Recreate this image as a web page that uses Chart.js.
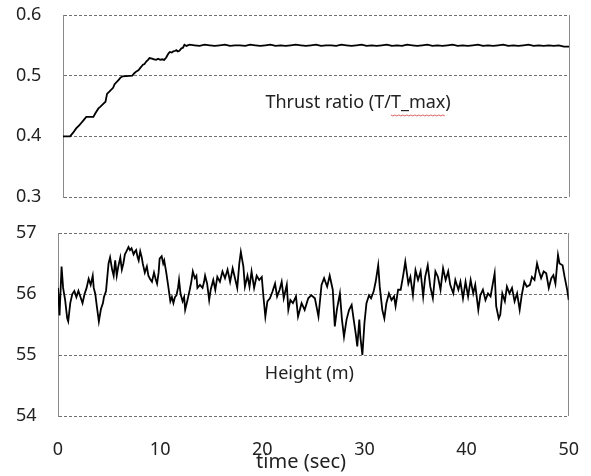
<!DOCTYPE html>
<html>
<head>
<meta charset="utf-8">
<script src="https://cdn.jsdelivr.net/npm/chart.js@4.4.1/dist/chart.umd.min.js"></script>
<style>
    html, body { margin: 0; padding: 0; background: #fff; }
    #wrap { position: relative; width: 591px; height: 476px; }
    canvas { position: absolute; left: 0; }
    #thrustChart { top: 0; }
    #heightChart { top: 215px; }
</style>
</head>
<body>
<div id="wrap">
    <canvas id="thrustChart" width="591" height="215"></canvas>
    <canvas id="heightChart" width="591" height="261"></canvas>
</div>
<script>
// values
const thrustTime = [
    0, 0.7, 1.0, 1.3, 1.6, 1.8, 2.0, 2.3, 3.0, 3.2, 3.5, 3.7, 4.0, 4.2, 4.35, 4.6, 4.95, 5.1, 5.5, 5.7,
    5.9, 6.85, 7.05, 7.25, 7.45, 7.6, 7.9, 8.05, 8.2, 8.4, 8.55, 8.8, 9.0, 9.2, 9.4, 9.6, 9.8, 10.0, 10.2, 10.4,
    10.55, 10.75, 10.9, 11.1, 11.2, 11.35, 11.5, 11.7, 11.85, 12.0, 12.2, 12.5,
    13.0, 13.5, 14.0, 14.5, 15.0, 15.5, 16.0, 16.5, 17.0, 17.5, 18.0, 18.5, 19.0, 19.5, 20.0, 20.5,
    21.0, 21.5, 22.0, 22.5, 23.0, 23.5, 24.0, 24.5, 25.0, 25.5, 26.0, 26.5, 27.0, 27.5, 28.0, 28.5,
    29.0, 29.5, 30.0, 30.5, 31.0, 31.5, 32.0, 32.5, 33.0, 33.5, 34.0, 34.5, 35.0, 35.5, 36.0, 36.5,
    37.0, 37.5, 38.0, 38.5, 39.0, 39.5, 40.0, 40.5, 41.0, 41.5, 42.0, 42.5, 43.0, 43.5, 44.0, 44.5,
    45.0, 45.5, 46.0, 46.5, 47.0, 47.5, 48.0, 48.5, 49.0, 49.5, 50.0
];
const thrustRatio = [
    0.400, 0.400, 0.406, 0.413, 0.418, 0.422, 0.426, 0.432, 0.432, 0.438, 0.446, 0.449, 0.454, 0.457, 0.470, 0.474, 0.480, 0.486, 0.493, 0.497,
    0.499, 0.500, 0.504, 0.507, 0.509, 0.512, 0.518, 0.519, 0.523, 0.526, 0.529, 0.528, 0.527, 0.526, 0.528, 0.526, 0.527, 0.526, 0.530, 0.536,
    0.539, 0.538, 0.540, 0.541, 0.542, 0.540, 0.541, 0.545, 0.546, 0.551, 0.549, 0.551,
    0.550, 0.549, 0.551, 0.550, 0.549, 0.550, 0.551, 0.549, 0.550, 0.550, 0.549, 0.551, 0.550, 0.549, 0.550, 0.551,
    0.549, 0.550, 0.549, 0.550, 0.551, 0.550, 0.549, 0.550, 0.551, 0.549, 0.550, 0.550, 0.549, 0.551, 0.550, 0.549,
    0.550, 0.551, 0.549, 0.550, 0.549, 0.550, 0.551, 0.549, 0.550, 0.549, 0.551, 0.550, 0.549, 0.550, 0.551, 0.549,
    0.550, 0.549, 0.550, 0.551, 0.549, 0.550, 0.549, 0.550, 0.551, 0.549, 0.550, 0.549, 0.550, 0.551, 0.549, 0.550,
    0.549, 0.550, 0.551, 0.549, 0.550, 0.549, 0.550, 0.549, 0.550, 0.548, 0.548
];

const heightTime = [
    0.0, 0.15, 0.35, 0.5, 0.7, 0.9, 1.0, 1.2, 1.4, 1.6, 1.8, 2.0, 2.2, 2.4, 2.6, 2.8, 3.0, 3.2, 3.4, 3.5,
    3.65, 3.8, 4.0, 4.2, 4.4, 4.5, 4.7, 4.95, 5.1, 5.3, 5.45, 5.6, 5.75, 5.9, 6.1, 6.25, 6.4, 6.55, 6.7, 6.9,
    7.05, 7.2, 7.4, 7.55, 7.65, 7.8, 7.9, 8.05, 8.2, 8.3, 8.5, 8.7, 8.85, 9.0, 9.2, 9.4, 9.55, 9.7, 9.85, 9.95,
    10.15, 10.3, 10.4, 10.6, 10.8, 11.0, 11.15, 11.3, 11.45, 11.6, 11.75, 11.85, 12.0, 12.2, 12.35, 12.45, 12.65, 12.9, 13.05, 13.2,
    13.4, 13.55, 13.65, 13.9, 14.15, 14.3, 14.4, 14.6, 14.8, 14.95, 15.2, 15.4, 15.6, 15.85, 16.1, 16.35, 16.6, 16.85, 17.1, 17.3,
    17.55, 17.75, 17.9, 18.15, 18.3, 18.55, 18.75, 18.95, 19.2, 19.45, 19.7, 19.95, 20.1, 20.3, 20.5, 20.75, 21.0, 21.25, 21.45, 21.7,
    21.9, 22.1, 22.4, 22.55, 22.75, 23.0, 23.3, 23.5, 23.85, 24.15, 24.5, 24.8, 25.15, 25.5, 25.8, 26.05, 26.35, 26.6, 26.9, 27.1,
    27.3, 27.6, 27.8, 28.0, 28.25, 28.5, 28.75, 28.95, 29.15, 29.3, 29.5, 29.6, 29.8, 30.0, 30.2, 30.45, 30.65, 30.9, 31.1, 31.35,
    31.5, 31.75, 31.95, 32.15, 32.4, 32.65, 32.9, 33.05, 33.3, 33.55, 33.8, 34.0, 34.3, 34.5, 34.75, 35.0, 35.25, 35.5, 35.75, 35.95,
    36.2, 36.45, 36.7, 36.95, 37.2, 37.45, 37.7, 37.95, 38.2, 38.4, 38.7, 38.9, 39.2, 39.4, 39.65, 39.9, 40.15, 40.4, 40.65, 40.85,
    41.15, 41.35, 41.6, 41.85, 42.1, 42.35, 42.6, 42.75, 42.9, 43.15, 43.3, 43.5, 43.75, 43.95, 44.2, 44.45, 44.7, 44.95, 45.2, 45.4,
    45.65, 45.9, 46.2, 46.4, 46.65, 46.9, 47.1, 47.3, 47.55, 47.8, 48.05, 48.3, 48.5, 48.7, 48.95, 49.1, 49.4, 49.6, 49.85, 50.0
];
const heightValue = [
    56.10, 55.65, 56.45, 56.10, 55.90, 55.60, 55.55, 55.85, 56.00, 56.05, 55.95, 56.05, 55.95, 55.85, 56.00, 56.10, 56.25, 56.15, 56.30, 56.10,
    56.00, 55.80, 55.55, 55.75, 55.85, 55.95, 56.05, 56.50, 56.60, 56.40, 56.30, 56.55, 56.30, 56.45, 56.60, 56.40, 56.50, 56.65, 56.70, 56.77,
    56.72, 56.75, 56.65, 56.70, 56.72, 56.60, 56.55, 56.70, 56.60, 56.50, 56.35, 56.45, 56.30, 56.25, 56.20, 56.35, 56.25, 56.17, 56.35, 56.58,
    56.62, 56.50, 56.55, 56.35, 56.12, 55.88, 55.95, 55.85, 55.95, 55.98, 56.10, 56.23, 56.00, 55.88, 55.95, 55.74, 55.88, 56.07, 56.20, 56.37,
    56.26, 56.30, 56.10, 56.15, 56.10, 56.20, 56.30, 56.17, 55.90, 56.07, 56.23, 56.07, 56.28, 56.20, 56.37, 56.26, 56.40, 56.20, 56.42, 56.28,
    56.10, 56.50, 56.69, 56.45, 56.12, 56.30, 56.12, 56.37, 56.10, 56.30, 56.23, 56.28, 55.98, 55.63, 55.88, 55.93, 56.04, 56.17, 55.96, 56.07,
    56.20, 55.93, 56.15, 55.74, 55.90, 55.85, 55.96, 55.63, 55.85, 55.74, 55.93, 55.98, 55.93, 55.63, 56.15, 56.26, 56.12, 56.30, 56.07, 55.47,
    55.74, 56.01, 55.58, 55.30, 55.58, 55.74, 55.82, 55.58, 55.35, 55.14, 55.58, 55.30, 55.00, 55.52, 55.85, 55.98, 55.93, 56.04, 56.20, 56.47,
    56.12, 55.74, 55.60, 55.85, 56.01, 55.90, 55.96, 55.80, 56.07, 56.07, 56.31, 56.53, 56.17, 56.28, 55.98, 56.39, 56.23, 56.37, 55.96, 56.28,
    56.47, 56.12, 55.93, 56.37, 56.28, 56.07, 56.42, 56.23, 56.37, 56.15, 56.01, 56.23, 56.07, 56.20, 55.93, 56.20, 55.96, 56.23, 56.01, 56.15,
    55.74, 55.98, 56.07, 55.90, 56.01, 55.96, 56.20, 56.34, 55.80, 55.60, 55.66, 56.01, 55.88, 56.12, 56.01, 56.10, 55.88, 56.01, 55.74, 55.98,
    56.20, 56.12, 56.15, 56.28, 56.23, 56.50, 56.37, 56.26, 56.37, 56.34, 56.10, 56.26, 56.31, 56.17, 56.64, 56.50, 56.47, 56.28, 56.07, 55.90
];

const thrustTicks = [0.3, 0.4, 0.5, 0.6];
const heightTicks = [54, 55, 56, 57];
const timeTicks = [0, 10, 20, 30, 40, 50];

const FONT = '"Noto Sans", "DejaVu Sans", sans-serif';

function toPoints(xs, ys) {
    return xs.map((x, i) => ({ x: x, y: ys[i] }));
}

function buildOptions(yTicks, yWidth, showTime, padding, fmt, labels) {
    return {
        responsive: false,
        animation: false,
        devicePixelRatio: 1,
        layout: { padding: padding },
        plugins: {
            legend: { display: false },
            tooltip: { enabled: false },
            panelLabels: labels
        },
        scales: {
            x: {
                type: 'linear',
                min: 0,
                max: 50,
                afterBuildTicks: (scale) => { scale.ticks = timeTicks.map(v => ({ value: v })); },
                afterFit: (scale) => { scale.height = showTime ? 40 : 0; },
                grid: {
                    drawTicks: showTime,
                    tickLength: 11,
                    tickColor: 'rgba(0,0,0,0)',
                    lineWidth: 1,
                    color: (c) => (c.tick && c.tick.value === 50 ? '#8a8a8a' : 'rgba(0,0,0,0)')
                },
                border: { display: false },
                ticks: {
                    display: showTime,
                    padding: 12,
                    maxRotation: 0,
                    color: '#222',
                    font: { family: FONT, size: 18 }
                }
            },
            y: {
                min: yTicks[0],
                max: yTicks[yTicks.length - 1],
                afterBuildTicks: (scale) => { scale.ticks = yTicks.map(v => ({ value: v })); },
                afterFit: (scale) => { scale.width = yWidth; },
                grid: { drawTicks: false, color: '#707070', lineWidth: 1 },
                border: { display: true, color: '#8a8a8a', width: 1, dash: [3, 2] },
                ticks: {
                    crossAlign: 'far',
                    padding: 0,
                    color: '#222',
                    font: { family: FONT, size: 18 },
                    callback: fmt
                }
            }
        }
    };
}

const labelPlugin = {
    id: 'panelLabels',
    afterDraw(chart, args, opts) {
        if (!opts || !opts.text) return;
        const ctx = chart.ctx;
        const xs = chart.scales.x;
        const ys = chart.scales.y;
        ctx.save();
        ctx.fillStyle = '#222';
        ctx.textBaseline = 'middle';
        ctx.textAlign = 'left';
        ctx.font = '18px ' + FONT;
        const lx = xs.getPixelForValue(opts.at[0]);
        const ly = ys.getPixelForValue(opts.at[1]);
        ctx.fillText(opts.text, lx, ly);
        if (opts.squiggle) {
            // red spell-check underline under "T_max"
            const start = lx + ctx.measureText(opts.text.split(opts.squiggle)[0]).width;
            const w = ctx.measureText(opts.squiggle).width;
            ctx.strokeStyle = '#e06060';
            ctx.lineWidth = 1;
            ctx.beginPath();
            for (let i = 0; i <= w; i += 2) {
                const yy = ly + 12 + (i % 4 === 0 ? 0 : 1);
                if (i === 0) ctx.moveTo(start + i, yy); else ctx.lineTo(start + i, yy);
            }
            ctx.stroke();
        }
        if (opts.axisTitle) {
            ctx.font = '20px ' + FONT;
            ctx.textAlign = 'center';
            ctx.fillText(opts.axisTitle, xs.getPixelForValue(opts.axisTitleAt), chart.chartArea.bottom + 46);
        }
        ctx.restore();
    }
};

new Chart(document.getElementById('thrustChart'), {
    type: 'line',
    data: {
        datasets: [{
            data: toPoints(thrustTime, thrustRatio),
            borderColor: '#000',
            borderWidth: 1.8,
            pointRadius: 0,
            tension: 0
        }]
    },
    options: buildOptions(thrustTicks, 47, false, { left: 16, right: 22, top: 15, bottom: 18 },
        v => Number(v).toFixed(1),
        { text: 'Thrust ratio (T/T_max)', at: [20.0, 0.455], squiggle: 'T_max' }),
    plugins: [labelPlugin]
});

new Chart(document.getElementById('heightChart'), {
    type: 'line',
    data: {
        datasets: [{
            data: toPoints(heightTime, heightValue),
            borderColor: '#000',
            borderWidth: 1.8,
            pointRadius: 0,
            tension: 0
        }]
    },
    options: buildOptions(heightTicks, 42, true, { left: 16, right: 22, top: 18, bottom: 20 },
        v => String(v),
        { text: 'Height (m)', at: [20.25, 54.69], axisTitle: 'time (sec)', axisTitleAt: 23.8 }),
    plugins: [labelPlugin]
});
</script>
</body>
</html>
